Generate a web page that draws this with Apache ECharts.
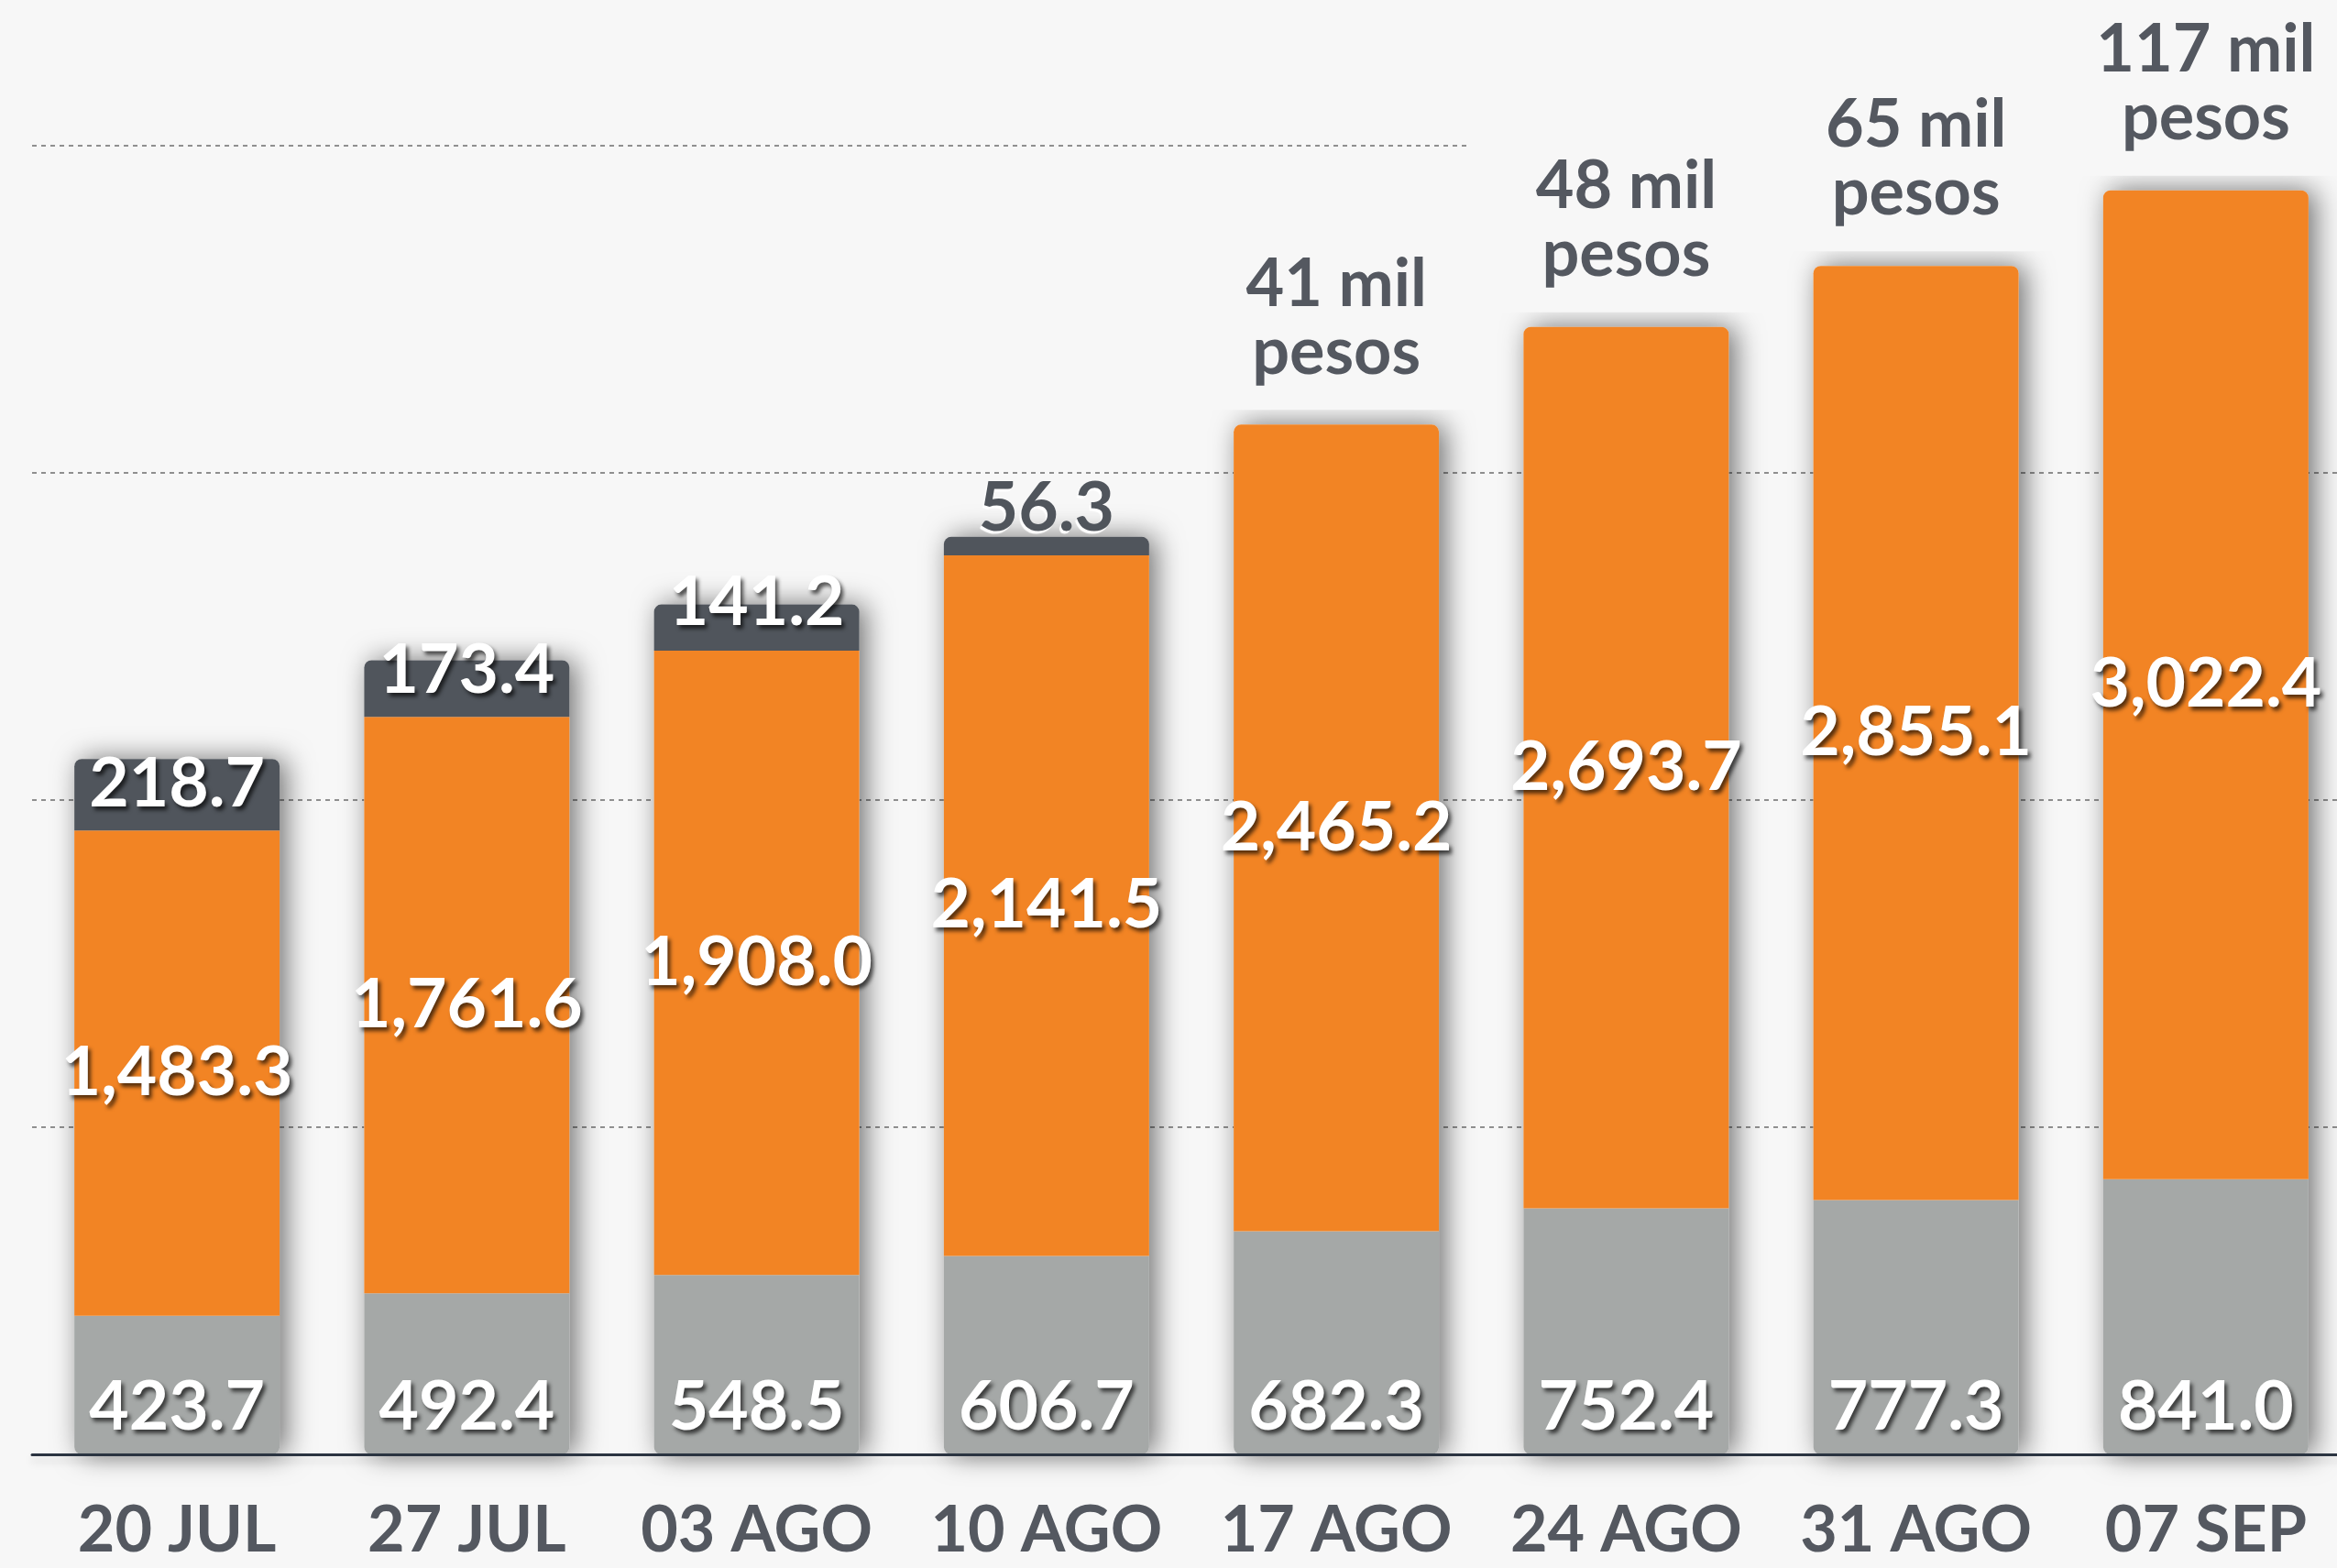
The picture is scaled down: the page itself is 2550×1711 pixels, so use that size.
<!DOCTYPE html>
<html>
<head>
<meta charset="utf-8">
<style>
  html, body { margin: 0; padding: 0; background: #f7f7f7; }
  #chart { width: 2550px; height: 1711px; }
</style>
<script src="https://cdn.jsdelivr.net/npm/echarts@6/dist/echarts.min.js"></script>
</head>
<body>
<div id="chart"></div>
<script>
const categories = ['20 JUL', '27 JUL', '03 AGO', '10 AGO', '17 AGO', '24 AGO', '31 AGO', '07 SEP']
const grayValues = [423.7, 492.4, 548.5, 606.7, 682.3, 752.4, 777.3, 841.0]
const orangeValues = [1483.3, 1761.6, 1908.0, 2141.5, 2465.2, 2693.7, 2855.1, 3022.4]
const darkValues = [218.7, 173.4, 141.2, 56.3, null, null, null, null]
const topNotes = ['', '', '', '', '41 mil\npesos', '48 mil\npesos', '65 mil\npesos', '117 mil\npesos']
const yMax = 4000
const yStep = 1000

const FONT = 'Lato'
const R = 8
const fmt = v => v.toLocaleString('en-US', { minimumFractionDigits: 1, maximumFractionDigits: 1 })
const totals = grayValues.map((g, i) => g + orangeValues[i] + (darkValues[i] || 0))

const whiteLabel = {
  show: true,
  color: '#fff',
  fontFamily: FONT,
  fontWeight: 'bold',
  fontSize: 75,
  lineHeight: 75,
  textShadowColor: 'rgba(0,0,0,0.65)',
  textShadowBlur: 4,
  textShadowOffsetX: 3,
  textShadowOffsetY: 4,
  formatter: p => fmt(p.value)
}

// where the dark labels sit, measured from the top of the segment
const darkLabelDy = [28, 11, -2, -31]

const chart = echarts.init(document.getElementById('chart'))

chart.setOption({
  backgroundColor: '#f7f7f7',
  animation: false,
  grid: { left: 35, top: 159, width: 2530, height: 1428, outerBoundsMode: 'none', containLabel: false },
  xAxis: {
    type: 'category',
    data: categories,
    axisTick: { show: false },
    axisLine: {
      lineStyle: {
        color: '#2b3441',
        width: 3,
        shadowColor: 'rgba(0,0,0,0.15)',
        shadowBlur: 10,
        shadowOffsetY: 6
      }
    },
    axisLabel: {
      interval: 0,
      color: '#545860',
      fontFamily: FONT,
      fontWeight: 'bold',
      fontSize: 70,
      margin: 48
    },
    z: 5
  },
  yAxis: {
    type: 'value',
    min: 0,
    max: yMax,
    interval: yStep,
    axisLabel: { show: false },
    axisLine: { show: false },
    axisTick: { show: false },
    splitLine: {
      show: true,
      showMinLine: false,
      showMaxLine: false,
      lineStyle: { color: '#8f8f8f', width: 2, type: [5, 5] }
    }
  },
  series: [
    {
      // one shadow per whole bar, drawn behind the stack
      name: 'total',
      type: 'bar',
      barWidth: 224,
      barGap: '-100%',
      z: 1,
      itemStyle: {
        color: '#f7f7f7',
        borderRadius: R,
        shadowColor: 'rgba(0,0,0,0.55)',
        shadowBlur: 30,
        shadowOffsetX: 7,
        shadowOffsetY: 0
      },
      label: {
        show: false,
        position: 'top',
        distance: 16,
        color: '#545860',
        fontFamily: FONT,
        fontWeight: 'bold',
        fontSize: 72,
        lineHeight: 74,
        width: 300,
        align: 'center',
        backgroundColor: '#f7f7f7',
        padding: [10, 0, 26, 0],
        formatter: p => topNotes[p.dataIndex]
      },
      data: totals.map((t, i) => ({ value: t, label: { show: !!topNotes[i] } }))
    },
    {
      name: 'gray',
      type: 'bar',
      stack: 'a',
      barWidth: 224,
      barGap: '-100%',
      z: 2,
      itemStyle: { color: '#a5a8a7', borderRadius: [0, 0, R, R] },
      label: Object.assign({}, whiteLabel, { position: 'insideBottom', distance: 14 }),
      data: grayValues
    },
    {
      name: 'orange',
      type: 'bar',
      stack: 'a',
      barWidth: 224,
      barGap: '-100%',
      z: 2,
      itemStyle: { color: '#f28424' },
      label: Object.assign({}, whiteLabel, { position: 'inside' }),
      data: orangeValues.map((v, i) => ({
        value: v,
        itemStyle: { borderRadius: darkValues[i] == null ? [R, R, 0, 0] : 0 }
      }))
    },
    {
      name: 'dark',
      type: 'bar',
      stack: 'a',
      barWidth: 224,
      barGap: '-100%',
      z: 2,
      itemStyle: { color: '#50555c', borderRadius: [R, R, 0, 0] },
      label: Object.assign({}, whiteLabel, { align: 'center', verticalAlign: 'middle' }),
      data: darkValues.map((v, i) => {
        if (v == null) return null
        const lbl = { position: ['50%', darkLabelDy[i]] }
        if (darkLabelDy[i] < -10) {
          // label sits fully above the thin segment
          Object.assign(lbl, {
            color: '#50555c',
            textShadowColor: '#fff',
            textShadowBlur: 1,
            textShadowOffsetX: -2,
            textShadowOffsetY: 3
          })
        }
        return { value: v, label: lbl }
      })
    }
  ]
})

// top gridline only runs part way across
const yTop = chart.convertToPixel({ yAxisIndex: 0 }, yMax)
const c4 = chart.convertToPixel({ xAxisIndex: 0 }, categories[4])
const band = chart.convertToPixel({ xAxisIndex: 0 }, categories[1]) - chart.convertToPixel({ xAxisIndex: 0 }, categories[0])
chart.setOption({
  graphic: [{
    type: 'line',
    z: 0,
    shape: { x1: 35, y1: yTop, x2: c4 + band * 0.45, y2: yTop },
    style: { stroke: '#8f8f8f', lineWidth: 2, lineDash: [5, 5] }
  }]
})
</script>
</body>
</html>
